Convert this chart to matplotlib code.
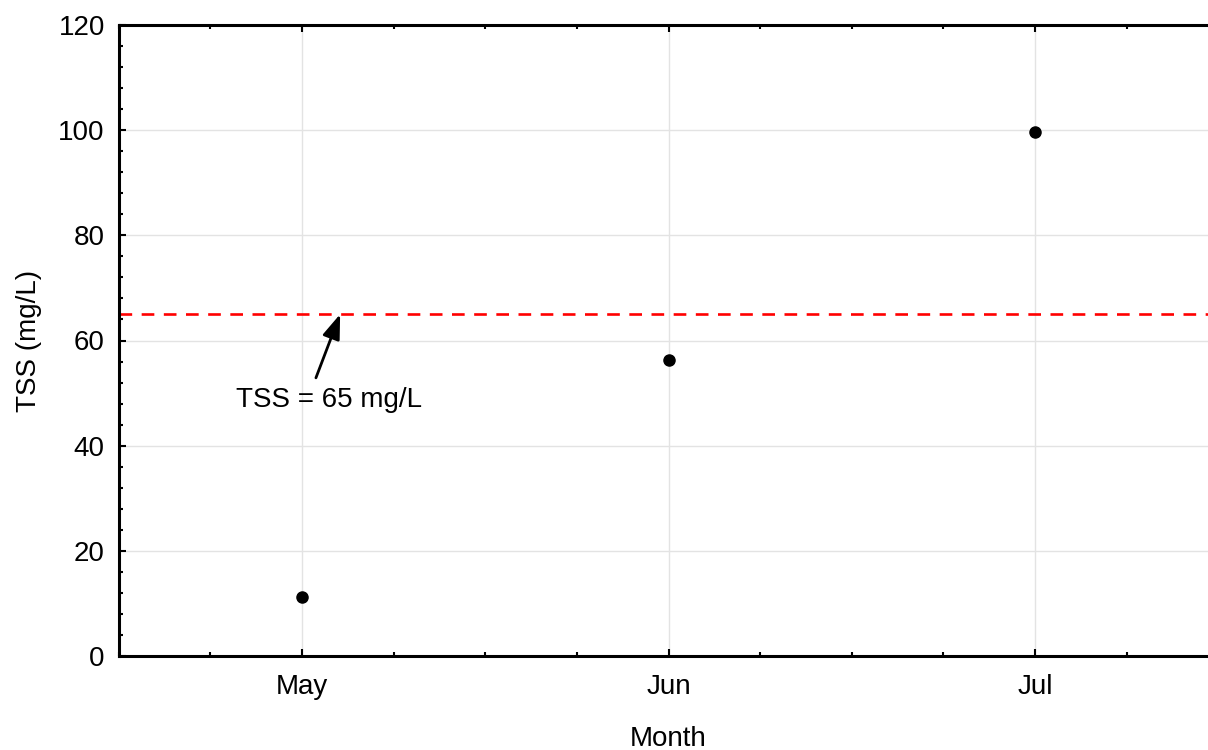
import matplotlib
matplotlib.use("Agg")
import matplotlib.pyplot as plt
from matplotlib.ticker import MultipleLocator

# ── Data ──────────────────────────────────────────────────────────────────────
months = ["May", "Jun", "Jul"]
tss_values = [11.2, 56.2, 99.7]
tss_limit = 65
limit_label = "TSS = 65 mg/L"

plt.rcParams["font.family"] = ["Liberation Sans", "DejaVu Sans"]

fig = plt.figure(figsize=(12.08, 7.5), dpi=100)
ax = fig.add_axes([0.0983, 0.1253, 0.9102, 0.8414])

x = list(range(len(months)))

ax.grid(True, color="#e3e3e3", linewidth=1.0, zorder=0)
ax.axhline(tss_limit, color="#ff0000", linestyle=(0, (4.8, 3.6)), linewidth=1.9, zorder=2)
ax.plot(x, tss_values, "o", color="black", markersize=8, zorder=3)

# label text and the arrow pointing at the limit line
ax.text(0.075, 48.7, limit_label, ha="center", va="center", fontsize=20)
ax.annotate("", xy=(0.104, tss_limit), xytext=(0.038, 52.9),
            arrowprops=dict(arrowstyle="-|>,head_length=0.5,head_width=0.18",
                            color="black", lw=2, mutation_scale=30,
                            shrinkA=0, shrinkB=0))

ax.set_xlim(-0.5, 2.5)
ax.set_ylim(0, 120)
ax.set_xticks(x)
ax.set_xticklabels(months)
ax.xaxis.set_minor_locator(MultipleLocator(0.25))
ax.yaxis.set_major_locator(MultipleLocator(20))
ax.yaxis.set_minor_locator(MultipleLocator(4))

ax.tick_params(which="both", direction="in", top=True, right=False,
               labelsize=20, width=1.5)
ax.tick_params(axis="x", pad=13)
ax.tick_params(axis="y", pad=10)
ax.tick_params(which="major", length=5)
ax.tick_params(which="minor", length=3)

for side in ["left", "bottom", "top"]:
    ax.spines[side].set_linewidth(2.2)
ax.spines["right"].set_visible(False)

ax.set_xlabel("Month", fontsize=20, labelpad=18.5)
ax.set_ylabel("TSS (mg/L)", fontsize=20, labelpad=12)

fig.savefig("out.png", dpi=100)
